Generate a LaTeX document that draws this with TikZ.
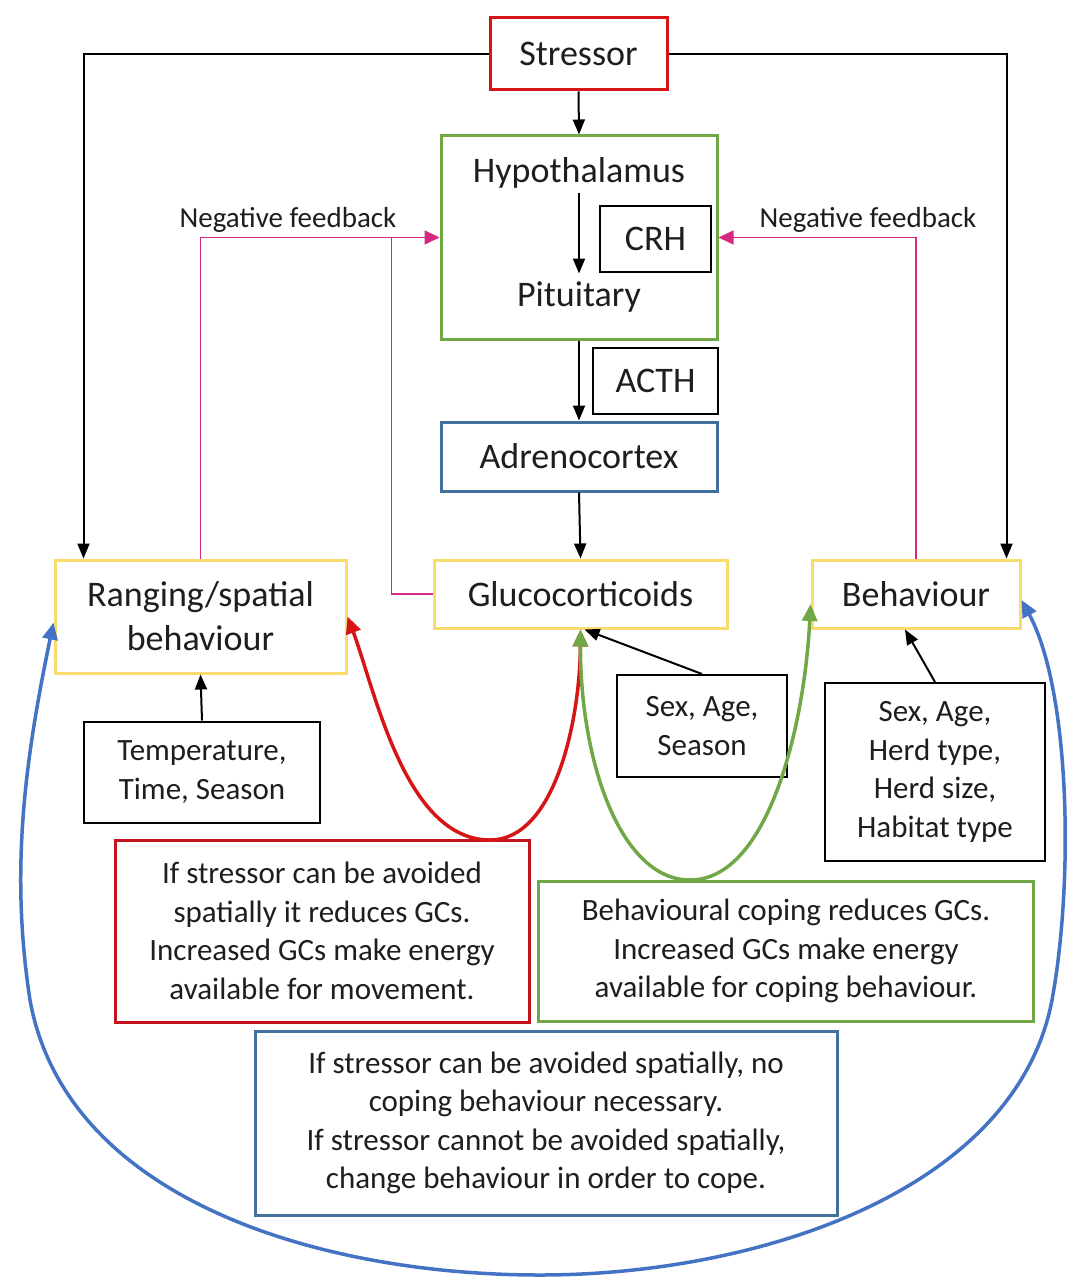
\documentclass[tikz,border=0pt]{standalone}
\usepackage{fontspec}
\setmainfont{Carlito}
\usetikzlibrary{arrows.meta,calc}
\definecolor{cred}{RGB}{214,22,22}
\definecolor{cdred}{RGB}{196,18,30}
\definecolor{cgreen}{RGB}{112,168,71}
\definecolor{cblue}{RGB}{65,113,156}
\definecolor{cblue2}{RGB}{68,114,196}
\definecolor{cyel}{RGB}{250,220,110}
\definecolor{cmag}{RGB}{214,40,130}
\definecolor{ctext}{RGB}{30,30,30}
\begin{document}
\begin{tikzpicture}[x=1pt,y=-1pt,
  every node/.style={text=ctext, inner sep=0pt, align=center},
  big/.style={font=\fontsize{36}{44}\selectfont},
  small/.style={font=\fontsize{31}{38.5}\selectfont},
  label/.style={font=\fontsize{29}{35}\selectfont},
  cbox/.style={draw, line width=3pt},
  kbox/.style={draw=black, line width=2pt},
  arr/.style={draw=black, line width=2pt, -{Triangle[length=15pt,width=12pt]}},
  fb/.style={draw=cmag, line width=1.6pt},
  fbarr/.style={fb, -{Triangle[length=15pt,width=14pt]}},
  curve/.style={line width=3.5pt, {Triangle[length=17pt,width=15pt]}-{Triangle[length=17pt,width=15pt]}}
]
\useasboundingbox (0,0) rectangle (1070,1279);
\fill[white] (0,0) rectangle (1070,1279);

% nodes
\node[cbox, draw=cred, big, minimum width=177pt, minimum height=72pt] (stressor) at (578.5,54) {Stressor};
\node[cbox, draw=cgreen, minimum width=276pt, minimum height=203pt] (hpa) at (579,237.5) {};
\node[big] (hypo) at (579,173) {Hypothalamus};
\node[big] (pit) at (579,297) {Pituitary};
\node[kbox, big, minimum width=111pt, minimum height=66pt] (crh) at (655.5,239) {CRH};
\node[kbox, big, minimum width=125pt, minimum height=66pt] (acth) at (655.5,381) {ACTH};
\node[cbox, draw=cblue, big, minimum width=276pt, minimum height=69pt] (adr) at (579,456.5) {Adrenocortex};
\node[cbox, draw=cyel, big, minimum width=293pt, minimum height=68pt] (gluco) at (580.5,594) {Glucocorticoids};
\node[cbox, draw=cyel, big, minimum width=291pt, minimum height=113pt] (rang) at (200.5,616.5) {Ranging/spatial\\behaviour};
\node[cbox, draw=cyel, big, minimum width=208pt, minimum height=68pt] (beh) at (916,594) {Behaviour};
\node[kbox, small, minimum width=236pt, minimum height=101pt] (temp) at (202,772) {Temperature,\\Time, Season};
\node[kbox, small, minimum width=170pt, minimum height=102pt] (sas) at (702,726) {Sex, Age,\\Season};
\node[kbox, small, minimum width=220pt, minimum height=178pt] (herd) at (935,772) {Sex, Age,\\Herd type,\\Herd size,\\Habitat type};
\node[cbox, draw=cdred, small, minimum width=414pt, minimum height=182pt] (redbox) at (322,931) {If stressor can be avoided\\spatially it reduces GCs.\\Increased GCs make energy\\available for movement.};
\node[cbox, draw=cgreen, small, minimum width=495pt, minimum height=140pt] (greenbox) at (786,951) {Behavioural coping reduces GCs.\\Increased GCs make energy\\available for coping behaviour.};
\node[cbox, draw=cblue, small, minimum width=582pt, minimum height=184pt] (bluebox) at (546,1123) {If stressor can be avoided spatially, no\\coping behaviour necessary.\\If stressor cannot be avoided spatially,\\change behaviour in order to cope.};
\node[label] (nfl) at (288,220) {Negative feedback};
\node[label] (nfr) at (868,220) {Negative feedback};

% coordinates
\coordinate (fbL) at ($(hpa.west)+(-48,0)$);
\coordinate (redU) at (490,840);
\coordinate (greenU) at (690,880);
\coordinate (bL) at (30,1000);
\coordinate (bB) at (540,1275);
\coordinate (bR) at (1052,1000);

% black connectors
\draw[arr] (stressor.south) -- (hpa.north);
\draw[arr, shorten <=4pt, shorten >=8pt] (hypo.south) -- (pit.north);
\draw[arr] (hpa.south) -- (adr.north);
\draw[arr] (adr.south) -- (gluco.north);
\draw[arr] (stressor.west) -| ([xshift=30pt]rang.north west);
\draw[arr] (stressor.east) -| ([xshift=-15pt]beh.north east);
\draw[arr] (temp.north) -- (rang.south);
\draw[arr] (herd.north) -- ([xshift=-11pt]beh.south);

% feedback
\draw[fbarr] (rang.north) |- (hpa.west);
\draw[fb] (gluco.west) -| (fbL);
\draw[fbarr] (beh.north) |- (hpa.east);

% curves
\draw[curve, cred] (rang.east) .. controls (375,690) and (405,840) .. (redU) .. controls (555,840) and (580,720) .. (gluco.south);
\draw[arr] (sas.north) -- ([xshift=4pt]gluco.south);
\draw[curve, cgreen] (gluco.south) .. controls (580,760) and (620,880) .. (greenU) .. controls (770,880) and (805,720) .. ([yshift=-10pt]beh.west);
\draw[curve, cblue2] ([yshift=-6pt]rang.west) .. controls (25,760) and (10,870) .. (bL) .. controls (66,1200) and (320,1275) .. (bB) .. controls (760,1275) and (1016,1190) .. (bR) .. controls (1074,880) and (1070,690) .. ([yshift=-6pt]beh.east);
\end{tikzpicture}
\end{document}
